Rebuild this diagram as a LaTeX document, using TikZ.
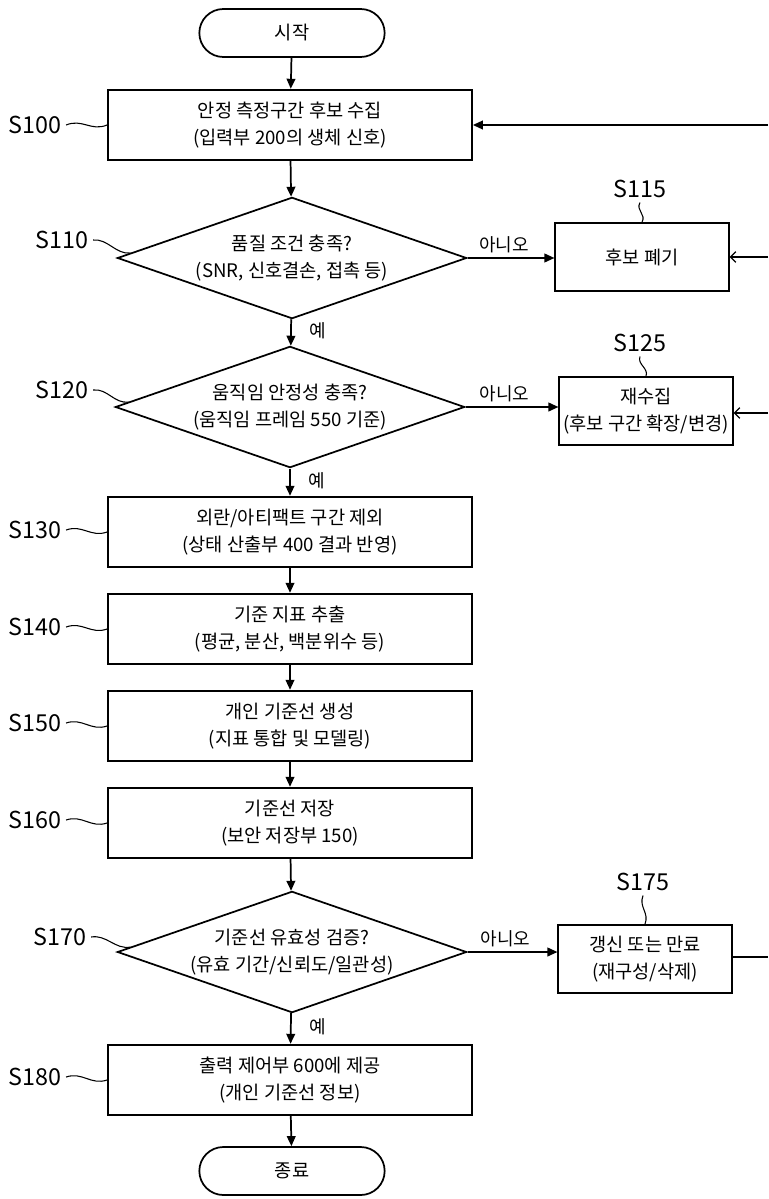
\documentclass[tikz,border=0pt]{standalone}
\usepackage{fontspec}
\setmainfont{Noto Sans CJK KR}
\usetikzlibrary{shapes.geometric,arrows.meta,calc}

\begin{document}
\begin{tikzpicture}[
  x=0.75pt, y=-0.75pt,
  every node/.style={font=\fontsize{14pt}{20pt}\selectfont, align=center},
  >={Triangle[length=7.5pt,width=6.5pt]},
  term/.style={draw, line width=1.3pt, rectangle, rounded corners=18pt, minimum width=139pt, minimum height=36pt},
  stepbox/.style={draw, line width=1.3pt, rectangle, minimum width=273pt, minimum height=53pt},
  decision/.style={draw, line width=1.3pt, diamond, aspect=2.9, inner sep=0pt, minimum width=262pt, minimum height=91pt},
  sidebox/.style={draw, line width=1.3pt, rectangle, inner xsep=2pt, minimum width=130pt, minimum height=51pt},
  steplabel/.style={font=\fontsize{17.5pt}{19pt}\selectfont},
  answer/.style={font=\fontsize{13.5pt}{15pt}\selectfont},
  flow/.style={draw, line width=1.3pt, ->},
  backflow/.style={draw, line width=1.3pt, -{Straight Barb[length=4pt,width=8pt,line width=1pt]}},
  squig/.style={draw, line width=0.8pt, to path={.. controls ($(\tikztostart)!0.4!(\tikztotarget)+(0,5pt)$) and ($(\tikztostart)!0.6!(\tikztotarget)+(0,-5pt)$) .. (\tikztotarget)}},
  vsquig/.style={draw, line width=0.8pt, to path={.. controls ($(\tikztostart)!0.4!(\tikztotarget)+(-4pt,0)$) and ($(\tikztostart)!0.6!(\tikztotarget)+(4pt,0)$) .. (\tikztotarget)}}
]
\useasboundingbox (0,0) rectangle (768,1199);

% main column
\node[term] (start) at (292,33) {시작};
\node[stepbox] (s100) at (290,125) {안정 측정구간 후보 수집\\(입력부 200의 생체 신호)};
\node[decision] (d110) at (292,258) {품질 조건 충족?\\(SNR, 신호결손, 접촉 등)};
\node[decision] (d120) at (290,407) {움직임 안정성 충족?\\(움직임 프레임 550 기준)};
\node[stepbox] (s130) at (290,532) {외란/아티팩트 구간 제외\\(상태 산출부 400 결과 반영)};
\node[stepbox] (s140) at (290,629) {기준 지표 추출\\(평균, 분산, 백분위수 등)};
\node[stepbox] (s150) at (290,726) {개인 기준선 생성\\(지표 통합 및 모델링)};
\node[stepbox] (s160) at (290,823) {기준선 저장\\(보안 저장부 150)};
\node[decision] (d170) at (292,952) {기준선 유효성 검증?\\(유효 기간/신뢰도/일관성)};
\node[stepbox] (s180) at (290,1080) {출력 제어부 600에 제공\\(개인 기준선 정보)};
\node[term] (stop) at (292,1171) {종료};

% side branches
\node[sidebox] (b115) at (642,257) {후보 폐기};
\node[sidebox] (b125) at (646,411) {재수집\\(후보 구간 확장/변경)};
\node[sidebox] (b175) at (645,959) {갱신 또는 만료\\(재구성/삭제)};

% loop ends at the right border
\coordinate (e100) at (768,125);
\coordinate (e115) at (768,257);
\coordinate (e125) at (768,413);
\coordinate (e175) at (768,957);

% step labels
\node[steplabel] (l100) at (35,125) {S100};
\node[steplabel] (l110) at (62,240) {S110};
\node[steplabel] (l115) at (640,189) {S115};
\node[steplabel] (l120) at (62,390) {S120};
\node[steplabel] (l125) at (640,343) {S125};
\node[steplabel] (l130) at (35,530) {S130};
\node[steplabel] (l140) at (35,627) {S140};
\node[steplabel] (l150) at (35,723) {S150};
\node[steplabel] (l160) at (35,820) {S160};
\node[steplabel] (l170) at (60,937) {S170};
\node[steplabel] (l175) at (643,882) {S175};
\node[steplabel] (l180) at (35,1077) {S180};

\draw[squig] (l100.east) to (s100.west);
\draw[squig] (l110.east) to ($(d110.west)!0.08!(d110.north)$);
\draw[squig] (l120.east) to ($(d120.west)!0.08!(d120.north)$);
\draw[squig] (l130.east) to (s130.west);
\draw[squig] (l140.east) to (s140.west);
\draw[squig] (l150.east) to (s150.west);
\draw[squig] (l160.east) to (s160.west);
\draw[squig] (l170.east) to ($(d170.west)!0.08!(d170.north)$);
\draw[squig] (l180.east) to (s180.west);
\draw[vsquig] (l115.south) to (b115.north);
\draw[vsquig] (l125.south) to (b125.north);
\draw[vsquig] (l175.south) to (b175.north);

% flow
\draw[flow] (start) -- (s100);
\draw[flow] (s100) -- (d110);
\draw[flow] (d110) -- node[answer, right=10pt, pos=0.45] {예} (d120);
\draw[flow] (d120) -- node[answer, right=10pt, pos=0.45] {예} (s130);
\draw[flow] (s130) -- (s140);
\draw[flow] (s140) -- (s150);
\draw[flow] (s150) -- (s160);
\draw[flow] (s160) -- (d170);
\draw[flow] (d170) -- node[answer, right=10pt, pos=0.45] {예} (s180);
\draw[flow] (s180) -- (stop);

\draw[flow] (d110.east) -- node[answer, above, pos=0.42] {아니오} (d110.east -| b115.west);
\draw[flow] (d120.east) -- node[answer, above, pos=0.42] {아니오} (d120.east -| b125.west);
\draw[flow] (d170.east) -- node[answer, above, pos=0.42] {아니오} (d170.east -| b175.west);

% returns from the right
\draw[flow] (e100) -- (s100.east);
\draw[backflow] (e115) -- (e115 -| b115.east);
\draw[backflow] (e125) -- (e125 -| b125.east);
\draw[line width=1.3pt] (e175 -| b175.east) -- (e175);

\end{tikzpicture}
\end{document}
